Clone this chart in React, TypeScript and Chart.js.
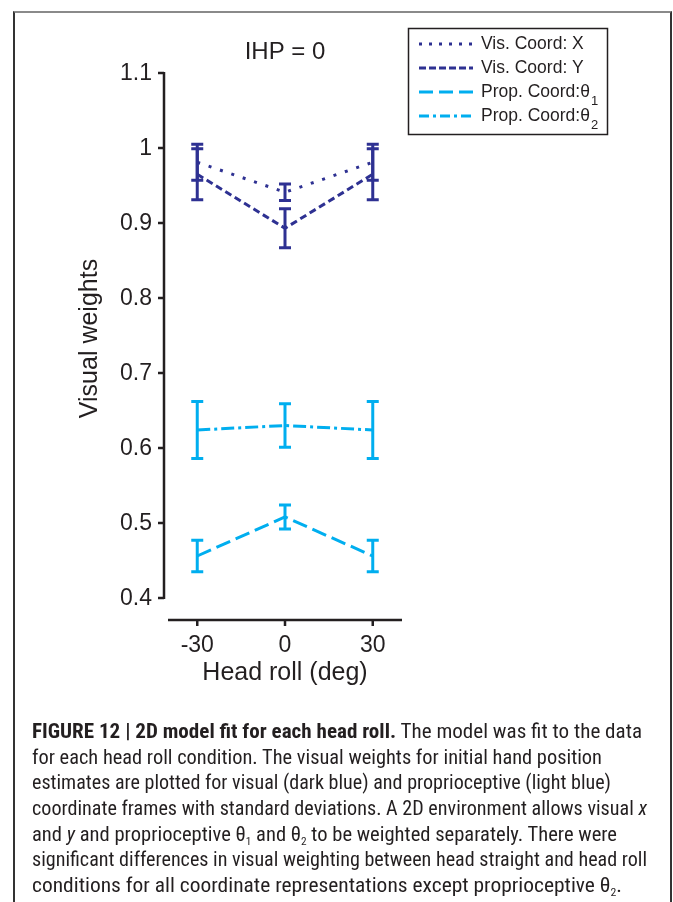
import React, { useEffect, useRef } from "react";
import { Chart, registerables } from "chart.js";
Chart.register(...registerables);

// ---- data ----
const headRoll = [-30, 0, 30];
const visX = [0.981, 0.941, 0.981];
const visXSd = [0.024, 0.011, 0.024];
const visY = [0.965, 0.893, 0.965];
const visYSd = [0.034, 0.026, 0.034];
const propT1 = [0.456, 0.508, 0.456];
const propT1Sd = [0.021, 0.016, 0.021];
const propT2 = [0.624, 0.63, 0.624];
const propT2Sd = [0.038, 0.029, 0.038];

const xTicks = [-30, 0, 30];
const xTickLabels = ["-30", "0", "30"];
const yTicks = [0.4, 0.5, 0.6, 0.7, 0.8, 0.9, 1.0, 1.1];
const yTickLabels = ["0.4", "0.5", "0.6", "0.7", "0.8", "0.9", "1", "1.1"];

const legendLabels = ["Vis. Coord: X", "Vis. Coord: Y", "Prop. Coord:\u03b8", "Prop. Coord:\u03b8"];
const legendSubs = ["", "", "1", "2"];

const titleText = "IHP = 0";
const xTitle = "Head roll (deg)";
const yTitle = "Visual weights";

const DARK = "#2e3192";
const LIGHT = "#00aeef";
const INK = "#231f20";
const FONT = "'Liberation Sans', Arial, sans-serif";

const seriesValues = [visX, visY, propT1, propT2];
const seriesSd = [visXSd, visYSd, propT1Sd, propT2Sd];
const seriesColors = [DARK, DARK, LIGHT, LIGHT];
const seriesDash = [[3, 9], [7, 4], [15, 6], [13, 4, 3, 4]];
const legendDash = [[3, 7], [7, 3], [14, 6], [10, 4, 3, 4]];

// caption line right edges (layout)
const CAPTION_LEFT = 32;
const captionRight = [642, 602, 611, 647, 617, 647, 622];

const decor = {
  id: "decor",
  beforeDatasetsDraw(chart: any) {
    const ctx = chart.ctx;
    const xs = chart.scales.x;
    const ys = chart.scales.y;
    ctx.save();
    ctx.lineWidth = 3;
    ctx.setLineDash([]);
    ctx.lineCap = "butt";
    seriesValues.forEach((vals, i) => {
      ctx.strokeStyle = seriesColors[i];
      vals.forEach((v, j) => {
        const x = xs.getPixelForValue(headRoll[j]);
        const yt = ys.getPixelForValue(v + seriesSd[i][j]);
        const yb = ys.getPixelForValue(v - seriesSd[i][j]);
        ctx.beginPath();
        ctx.moveTo(x, yt);
        ctx.lineTo(x, yb);
        ctx.moveTo(x - 6, yt);
        ctx.lineTo(x + 6, yt);
        ctx.moveTo(x - 6, yb);
        ctx.lineTo(x + 6, yb);
        ctx.stroke();
      });
    });
    ctx.restore();
  },
  afterDraw(chart: any) {
    const ctx = chart.ctx;
    const xs = chart.scales.x;
    const ys = chart.scales.y;
    const { left, right, bottom } = chart.chartArea;
    ctx.save();
    ctx.setLineDash([]);
    ctx.strokeStyle = INK;
    ctx.fillStyle = INK;
    ctx.lineWidth = 2.5;
    // y axis
    const ax = left - 4;
    ctx.beginPath();
    ctx.moveTo(ax, ys.getPixelForValue(yTicks[yTicks.length - 1]) - 1);
    ctx.lineTo(ax, ys.getPixelForValue(yTicks[0]) + 1);
    yTicks.forEach((t) => {
      const y = ys.getPixelForValue(t);
      ctx.moveTo(ax, y);
      ctx.lineTo(ax - 6, y);
    });
    ctx.stroke();
    ctx.font = `23px ${FONT}`;
    ctx.textAlign = "right";
    ctx.textBaseline = "middle";
    yTicks.forEach((t, i) => {
      ctx.fillText(yTickLabels[i], ax - 12, ys.getPixelForValue(t) + 1);
    });
    // x axis
    const ay = bottom + 22;
    ctx.beginPath();
    ctx.moveTo(left, ay);
    ctx.lineTo(right, ay);
    xTicks.forEach((t) => {
      const x = xs.getPixelForValue(t);
      ctx.moveTo(x, ay);
      ctx.lineTo(x, ay + 6);
    });
    ctx.stroke();
    ctx.textAlign = "center";
    xTicks.forEach((t, i) => {
      ctx.fillText(xTickLabels[i], xs.getPixelForValue(t), ay + 26);
    });
    // axis titles
    ctx.font = `25px ${FONT}`;
    ctx.fillText(xTitle, (left + right) / 2, ay + 53);
    ctx.save();
    ctx.translate(90, ys.getPixelForValue(0.75) + 3);
    ctx.rotate(-Math.PI / 2);
    ctx.fillText(yTitle, 0, 0);
    ctx.restore();
    // title
    ctx.font = `24px ${FONT}`;
    ctx.fillText(titleText, (left + right) / 2, 52);

    // legend
    const bx = 408, by = 28, bw = 199, bh = 106;
    ctx.fillStyle = "#ffffff";
    ctx.fillRect(bx, by, bw, bh);
    ctx.lineWidth = 1.5;
    ctx.strokeStyle = INK;
    ctx.strokeRect(bx + 0.5, by + 0.5, bw, bh);
    legendLabels.forEach((lab, i) => {
      const y = 44 + i * 24;
      ctx.save();
      ctx.strokeStyle = seriesColors[i];
      ctx.lineWidth = 3;
      ctx.lineCap = "butt";
      ctx.setLineDash(legendDash[i]);
      ctx.beginPath();
      ctx.moveTo(419, y);
      ctx.lineTo(473, y);
      ctx.stroke();
      ctx.restore();
      ctx.fillStyle = INK;
      ctx.font = `17.5px ${FONT}`;
      ctx.textAlign = "left";
      ctx.textBaseline = "middle";
      ctx.fillText(lab, 481, y);
      if (legendSubs[i]) {
        const w = ctx.measureText(lab).width;
        ctx.font = `13px ${FONT}`;
        ctx.fillText(legendSubs[i], 481 + w + 1, y + 9);
      }
    });
    ctx.restore();
  },
};

const subStyle: React.CSSProperties = {
  fontSize: "55%",
  position: "relative",
  top: "0.35em",
  lineHeight: 0,
  verticalAlign: "baseline",
};

const captionLines: React.ReactNode[] = [
  <>
    <b>FIGURE 12 | 2D model fit for each head roll.</b> The model was fit to the data
  </>,
  <>for each head roll condition. The visual weights for initial hand position</>,
  <>estimates are plotted for visual (dark blue) and proprioceptive (light blue)</>,
  <>
    coordinate frames with standard deviations. A 2D environment allows visual <i>x</i>
  </>,
  <>
    and <i>y</i> and proprioceptive θ<span style={subStyle}>1</span> and θ<span style={subStyle}>2</span> to be
    weighted separately. There were
  </>,
  <>significant differences in visual weighting between head straight and head roll</>,
  <>
    conditions for all coordinate representations except proprioceptive θ<span style={subStyle}>2</span>.
  </>,
];

export default function App() {
  const ref = useRef<HTMLCanvasElement>(null);
  const lineRefs = useRef<(HTMLSpanElement | null)[]>([]);
  useEffect(() => {
    document.body.style.margin = "0";
    lineRefs.current.forEach((el, i) => {
      if (!el) return;
      const w = el.getBoundingClientRect().width;
      const target = captionRight[i] - CAPTION_LEFT;
      if (w > 0) el.style.transform = `scaleX(${target / w})`;
    });
    const datasets = seriesValues.map((vals, i) => ({
      label: legendLabels[i] + legendSubs[i],
      data: vals.map((v, j) => ({ x: headRoll[j], y: v })),
      borderColor: seriesColors[i],
      backgroundColor: seriesColors[i],
      borderWidth: 3,
      borderDash: seriesDash[i],
      borderCapStyle: "butt" as const,
      pointRadius: 0,
      tension: 0,
      fill: false,
    }));
    const chart = new Chart(ref.current!, {
      type: "line",
      data: { datasets },
      options: {
        animation: false,
        responsive: false,
        maintainAspectRatio: false,
        layout: { padding: { left: 168, right: 271, top: 73, bottom: 304 } },
        plugins: { legend: { display: false }, tooltip: { enabled: false }, title: { display: false } },
        scales: {
          x: { type: "linear", min: -40, max: 40, display: false },
          y: { type: "linear", min: 0.4, max: 1.1, display: false },
        },
      },
      plugins: [decor],
    });
    return () => chart.destroy();
  }, []);
  return (
    <div style={{ position: "relative", width: 673, height: 902, background: "#fff", overflow: "hidden" }}>
      <canvas ref={ref} width={673} height={902} style={{ position: "absolute", left: 0, top: 0 }} />
      <div
        style={{
          position: "absolute",
          left: 13,
          top: 11,
          width: 655,
          height: 900,
          borderTop: "2px solid #8a8a8a",
          borderLeft: "2px solid #333",
          borderRight: "2px solid #333",
          pointerEvents: "none",
        }}
      />
      <div
        style={{
          position: "absolute",
          left: CAPTION_LEFT,
          top: 719,
          fontFamily: "'Liberation Sans Narrow', 'Roboto Condensed', 'DejaVu Sans Condensed', sans-serif",
          fontSize: 21,
          lineHeight: "25.67px",
          color: INK,
          whiteSpace: "nowrap",
        }}
      >
        {captionLines.map((l, i) => (
          <div key={i} style={{ height: 25.67 }}>
            <span
              ref={(el) => {
                lineRefs.current[i] = el;
              }}
              style={{ display: "inline-block", transformOrigin: "0 0" }}
            >
              {l}
            </span>
          </div>
        ))}
      </div>
    </div>
  );
}
